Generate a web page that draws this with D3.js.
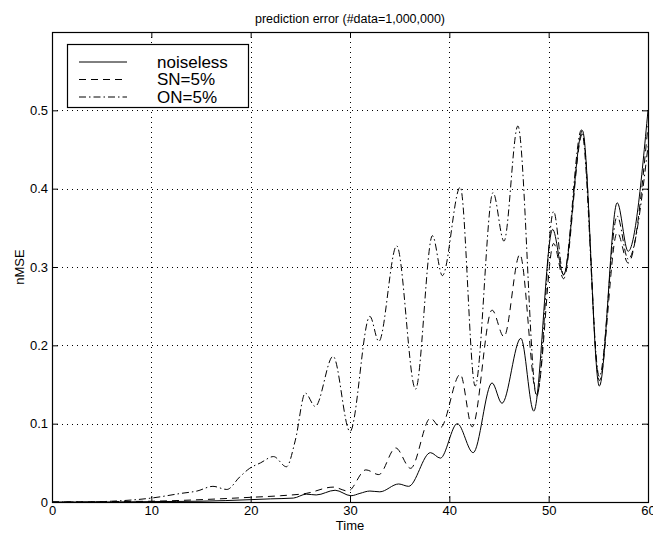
<!DOCTYPE html>
<html>
<head>
<meta charset="utf-8">
<script src="https://cdn.jsdelivr.net/npm/d3@7"></script>
<style>
  html, body { margin: 0; padding: 0; background: #fff; }
  svg { display: block; }
  text { font-family: "Liberation Sans", Arial, Helvetica, sans-serif; fill: #000; }
</style>
</head>
<body>
<script>
// ---------------- data ----------------
const chartTitle = "prediction error (#data=1,000,000)";
const xLabel = "Time";
const yLabel = "nMSE";
const seriesNames = ["noiseless", "SN=5%", "ON=5%"];
const xTicks = [0, 10, 20, 30, 40, 50, 60];
const yTicks = [0, 0.1, 0.2, 0.3, 0.4, 0.5];

const tNoiseless = [0, 5, 10, 15, 20, 22, 24.3, 25.6, 26.6, 28.5, 30.1, 31.0, 32.0, 33.0, 34.9, 35.9, 38.1, 39.1, 40.8, 42.4, 44.3, 45.3, 47.2, 48.5, 50.4, 51.5, 53.4, 55.1, 56.9, 58.0, 60];
const vNoiseless = [0, 0, 0.0005, 0.001, 0.003, 0.004, 0.005, 0.010, 0.009, 0.015, 0.008, 0.011, 0.014, 0.013, 0.023, 0.020, 0.063, 0.056, 0.100, 0.063, 0.152, 0.126, 0.209, 0.116, 0.348, 0.290, 0.474, 0.148, 0.382, 0.320, 0.500];

const tSN = [0, 5, 10, 15, 20, 23, 25.6, 28.3, 29.8, 31.6, 32.9, 34.6, 36.1, 38.1, 39.1, 41.1, 42.3, 44.3, 45.5, 47.1, 48.8, 50.5, 51.5, 53.4, 55.1, 56.9, 58.0, 60];
const vSN = [0, 0.0005, 0.001, 0.003, 0.006, 0.008, 0.011, 0.019, 0.014, 0.041, 0.035, 0.069, 0.043, 0.107, 0.095, 0.163, 0.096, 0.245, 0.211, 0.316, 0.137, 0.330, 0.285, 0.470, 0.155, 0.344, 0.305, 0.480];

const tON = [0, 3, 6, 10, 13, 14.6, 16.2, 17.6, 18.9, 19.9, 21, 22.3, 23.6, 24.5, 25.5, 26.5, 28.3, 30.0, 32.0, 32.9, 34.7, 36.6, 38.3, 39.3, 41.1, 42.6, 44.4, 45.5, 46.9, 48.8, 50.5, 51.5, 53.3, 55.1, 56.9, 58.0, 60];
const vON = [0, 0, 0.001, 0.005, 0.011, 0.014, 0.020, 0.016, 0.032, 0.043, 0.050, 0.058, 0.045, 0.079, 0.139, 0.122, 0.186, 0.090, 0.237, 0.205, 0.327, 0.144, 0.340, 0.289, 0.402, 0.148, 0.395, 0.333, 0.480, 0.135, 0.371, 0.290, 0.475, 0.160, 0.365, 0.310, 0.454];

// ---------------- layout ----------------
const W = 653, H = 535;
const L = 52, R = 648, T = 32, B = 502;

const svg = d3.select("body").append("svg").attr("width", W).attr("height", H);

const x = d3.scaleLinear().domain([0, 60]).range([L, R]);
const y = d3.scaleLinear().domain([0, 0.6]).range([B, T]);

// grid
const grid = svg.append("g").attr("stroke", "#000").attr("stroke-width", 1).attr("stroke-dasharray", "1,4").attr("shape-rendering", "crispEdges");
grid.selectAll("line.gx").data(xTicks.slice(1, -1)).join("line")
  .attr("x1", d => Math.round(x(d)) + 0.5).attr("x2", d => Math.round(x(d)) + 0.5)
  .attr("y1", T).attr("y2", B);
grid.selectAll("line.gy").data(yTicks.slice(1)).join("line")
  .attr("y1", d => Math.round(y(d)) + 0.5).attr("y2", d => Math.round(y(d)) + 0.5)
  .attr("x1", L).attr("x2", R);

// axes (ticks inward)
const fmt = d => d3.format("~g")(d);
const axB = svg.append("g").attr("transform", `translate(0,${B})`)
  .call(d3.axisBottom(x).tickValues(xTicks).tickSize(-6).tickSizeOuter(0).tickPadding(4).tickFormat(fmt));
const axL = svg.append("g").attr("transform", `translate(${L},0)`)
  .call(d3.axisLeft(y).tickValues(yTicks).tickSize(-6).tickSizeOuter(0).tickPadding(4).tickFormat(fmt));
const axT = svg.append("g").attr("transform", `translate(0,${T})`)
  .call(d3.axisTop(x).tickValues(xTicks).tickSize(-6).tickSizeOuter(0).tickFormat(""));
const axR = svg.append("g").attr("transform", `translate(${R},0)`)
  .call(d3.axisRight(y).tickValues(yTicks).tickSize(-6).tickSizeOuter(0).tickFormat(""));
[axB, axL, axT, axR].forEach(a => {
  a.select(".domain").remove();
  a.selectAll("line").attr("stroke", "#000");
  a.selectAll("text").attr("font-size", 13).attr("font-family", "Liberation Sans, Arial, sans-serif");
});

// series
const line = d3.line().x(d => x(d[0])).y(d => y(d[1])).curve(d3.curveMonotoneX);
const series = [
  { name: seriesNames[0], t: tNoiseless, v: vNoiseless, dash: null },
  { name: seriesNames[1], t: tSN, v: vSN, dash: "7,5" },
  { name: seriesNames[2], t: tON, v: vON, dash: "7,3,1.5,3" }
];
const plot = svg.append("g");
series.forEach(s => {
  plot.append("path")
    .datum(s.t.map((t, i) => [t, s.v[i]]))
    .attr("fill", "none").attr("stroke", "#000").attr("stroke-width", 1)
    .attr("stroke-dasharray", s.dash)
    .attr("d", line);
});

// frame
svg.append("rect").attr("x", L + 0.5).attr("y", T + 0.5).attr("width", R - L).attr("height", B - T)
  .attr("fill", "none").attr("stroke", "#000").attr("stroke-width", 1.2);

// legend
const lg = svg.append("g");
lg.append("rect").attr("x", 67.5).attr("y", 44.5).attr("width", 181).attr("height", 63)
  .attr("fill", "#fff").attr("stroke", "#000").attr("stroke-width", 1.2);
series.forEach((s, i) => {
  const yy = 62 + i * 17.5;
  lg.append("line").attr("x1", 79).attr("x2", 127).attr("y1", yy).attr("y2", yy)
    .attr("stroke", "#000").attr("stroke-width", 1).attr("stroke-dasharray", s.dash);
  lg.append("text").attr("x", 157).attr("y", yy).attr("dy", "0.35em").attr("font-size", 17).text(s.name);
});

// title and labels
svg.append("text").attr("x", (L + R) / 2).attr("y", 23).attr("text-anchor", "middle").attr("font-size", 12.5).text(chartTitle);
svg.append("text").attr("x", (L + R) / 2).attr("y", 530).attr("text-anchor", "middle").attr("font-size", 13).text(xLabel);
svg.append("text").attr("transform", `translate(24,${(T + B) / 2}) rotate(-90)`).attr("text-anchor", "middle").attr("font-size", 13).text(yLabel);
</script>
</body>
</html>
